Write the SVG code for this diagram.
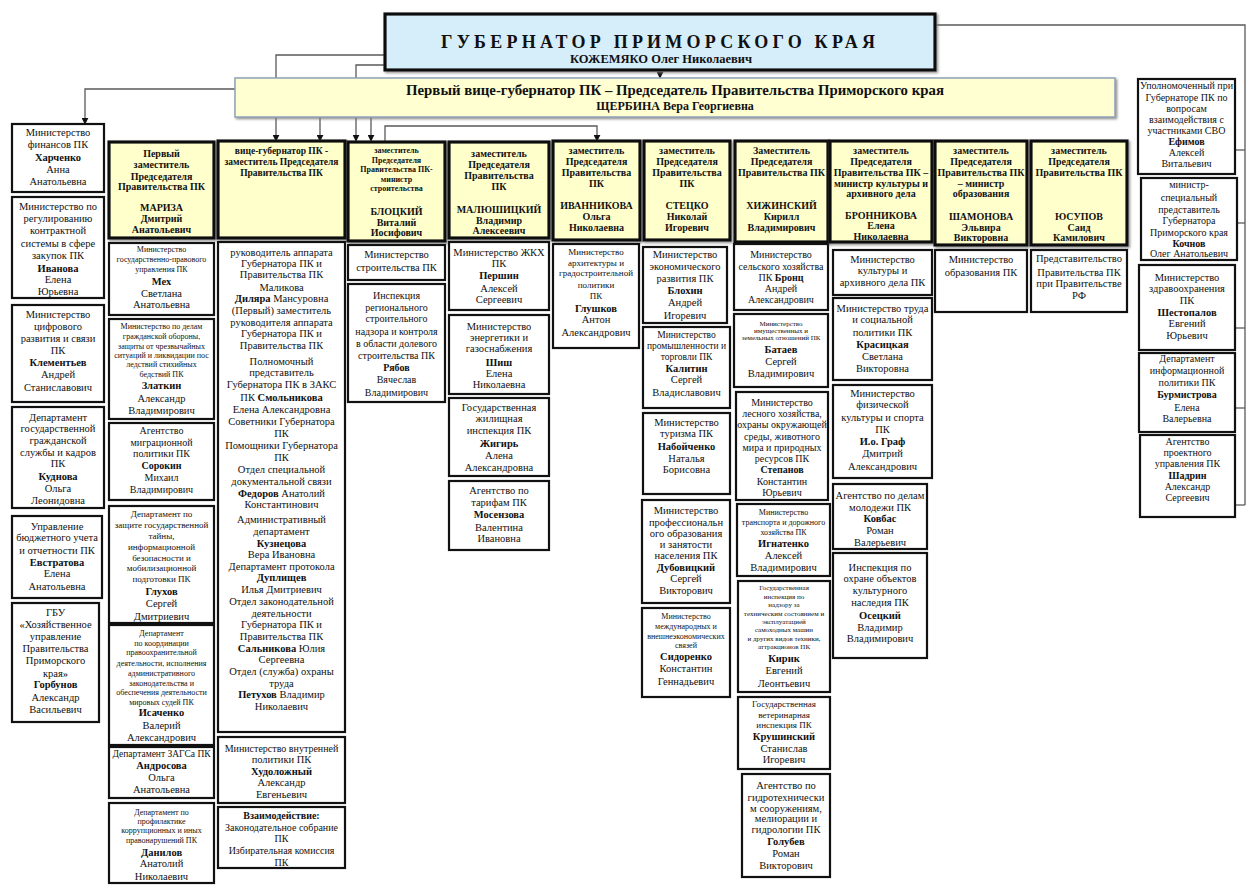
<svg xmlns="http://www.w3.org/2000/svg" width="1260" height="892" viewBox="0 0 1260 892">
<defs>
<style>
.t{font-family:"Liberation Serif","Times New Roman","DejaVu Serif",serif;fill:#111;text-anchor:middle;font-size:10.5px}
.b{font-weight:bold}
.s10{font-size:10px}
.s95{font-size:9.5px}
.s9{font-size:9px}
.s85{font-size:8.5px}
.s8{font-size:8px}
.s75{font-size:7.5px}
.s7{font-size:7px}
.gt{font-size:18px}
.gn{font-size:12.5px}
.ft{font-size:14.5px}
.fn{font-size:12px}
.box{fill:#fff;stroke:#111;stroke-width:2.2}
.hbox{fill:#ffffcc;stroke:#111;stroke-width:3.2}
.conn{fill:none;stroke:#5a5a5a;stroke-width:1.3}
</style>
<marker id="ar" viewBox="0 0 10 10" refX="9" refY="5" markerWidth="7" markerHeight="7" orient="auto" markerUnits="userSpaceOnUse">
<path d="M0,0 L10,5 L0,10 z" fill="#111"/>
</marker>
<filter id="sh" x="-10%" y="-10%" width="130%" height="130%">
<feDropShadow dx="1.5" dy="1.5" stdDeviation="0.8" flood-color="#777" flood-opacity="0.8"/>
</filter>
</defs>
<rect width="1260" height="892" fill="#fff"/>

<g id="connectors">
<path class="conn" d="M660,70 V78" marker-end="url(#ar)"/>
<path class="conn" d="M235,89 H85 V124" marker-end="url(#ar)"/>
<path class="conn" d="M385,55 H276 V141" marker-end="url(#ar)"/>
<path class="conn" d="M320,117 V141" marker-end="url(#ar)"/>
<path class="conn" d="M385,65 H356 V141" marker-end="url(#ar)"/>
<path class="conn" d="M371,117 V141" marker-end="url(#ar)"/>
<path class="conn" d="M385,141 V126 H597 V141" marker-end="url(#ar)"/>
<path class="conn" d="M935,25 H1245 V505"/>
<path class="conn" d="M1245,150 H1219" marker-end="url(#ar)"/>
<path class="conn" d="M1245,223 H1222" marker-end="url(#ar)"/>
<path class="conn" d="M1245,328 H1222" marker-end="url(#ar)"/>
<path class="conn" d="M1245,408 H1222" marker-end="url(#ar)"/>
<path class="conn" d="M1245,505 H1222" marker-end="url(#ar)"/>
</g>

<g id="governor">
<rect x="385" y="14" width="550" height="56" fill="#d6eefa" stroke="#111" stroke-width="3.2" filter="url(#sh)"/>
<text class="t b gt" x="658" y="48" textLength="434" lengthAdjust="spacing">ГУБЕРНАТОР ПРИМОРСКОГО КРАЯ</text>
<text class="t b gn" x="661" y="63">КОЖЕМЯКО Олег Николаевич</text>
</g>

<g id="first-vice">
<rect x="235" y="78" width="880" height="39" fill="#ffffd2" stroke="#8ea2b8" stroke-width="1.5" filter="url(#sh)"/>
<text class="t b ft" x="675" y="95" textLength="538" lengthAdjust="spacingAndGlyphs">Первый вице-губернатор ПК – Председатель Правительства Приморского края</text>
<text class="t b fn" x="675" y="110">ЩЕРБИНА Вера Георгиевна</text>
</g>

<!-- Left column -->
<g id="L1"><rect class="box" x="12" y="124" width="92" height="68"/>
<text class="t"><tspan x="58" y="136">Министерство</tspan><tspan x="58" y="148">финансов ПК</tspan><tspan x="58" y="161" class="b">Харченко</tspan><tspan x="58" y="173">Анна</tspan><tspan x="58" y="185">Анатольевна</tspan></text></g>
<g id="L2"><rect class="box" x="12" y="197" width="92" height="101"/>
<text class="t"><tspan x="58" y="210">Министерство по</tspan><tspan x="58" y="222">регулированию</tspan><tspan x="58" y="234">контрактной</tspan><tspan x="58" y="247">системы в сфере</tspan><tspan x="58" y="259">закупок ПК</tspan><tspan x="58" y="272" class="b">Иванова</tspan><tspan x="58" y="283">Елена</tspan><tspan x="58" y="295">Юрьевна</tspan></text></g>
<g id="L3"><rect class="box" x="12" y="305" width="92" height="97"/>
<text class="t"><tspan x="58" y="318">Министерство</tspan><tspan x="58" y="330">цифрового</tspan><tspan x="58" y="342">развития и связи</tspan><tspan x="58" y="354">ПК</tspan><tspan x="58" y="366" class="b">Клементьев</tspan><tspan x="58" y="378">Андрей</tspan><tspan x="58" y="391">Станиславович</tspan></text></g>
<g id="L4"><rect class="box" x="12" y="407" width="92" height="101"/>
<text class="t"><tspan x="58" y="421">Департамент</tspan><tspan x="58" y="432">государственной</tspan><tspan x="58" y="444">гражданской</tspan><tspan x="58" y="456">службы и кадров</tspan><tspan x="58" y="467">ПК</tspan><tspan x="58" y="480" class="b">Куднова</tspan><tspan x="58" y="492">Ольга</tspan><tspan x="58" y="504">Леонидовна</tspan></text></g>
<g id="L5"><rect class="box" x="12" y="516" width="90" height="82"/>
<text class="t"><tspan x="57" y="530">Управление</tspan><tspan x="57" y="541">бюджетного учета</tspan><tspan x="57" y="554">и отчетности ПК</tspan><tspan x="57" y="566" class="b">Евстратова</tspan><tspan x="57" y="577">Елена</tspan><tspan x="57" y="590">Анатольевна</tspan></text></g>
<g id="L6"><rect class="box" x="12" y="603" width="87" height="119"/>
<text class="t"><tspan x="55.5" y="616">ГБУ</tspan><tspan x="55.5" y="628">«Хозяйственное</tspan><tspan x="55.5" y="640">управление</tspan><tspan x="55.5" y="652">Правительства</tspan><tspan x="55.5" y="664">Приморского</tspan><tspan x="55.5" y="677">края»</tspan><tspan x="55.5" y="688" class="b">Горбунов</tspan><tspan x="55.5" y="701">Александр</tspan><tspan x="55.5" y="713">Васильевич</tspan></text></g>

<!-- Column A -->
<g id="A0"><rect class="hbox" x="109" y="142" width="105" height="96" filter="url(#sh)"/>
<text class="t b s10"><tspan x="161.5" y="157">Первый</tspan><tspan x="161.5" y="168">заместитель</tspan><tspan x="161.5" y="180">Председателя</tspan><tspan x="161.5" y="190">Правительства ПК</tspan><tspan x="161.5" y="211">МАРИЗА</tspan><tspan x="161.5" y="222">Дмитрий</tspan><tspan x="161.5" y="233">Анатольевич</tspan></text></g>
<g id="A1"><rect class="box" x="109" y="243" width="105" height="72"/>
<text class="t"><tspan class="s8" x="161.5" y="252">Министерство</tspan><tspan class="s8" x="161.5" y="262">государственно-правового</tspan><tspan class="s8" x="161.5" y="272">управления ПК</tspan><tspan x="161.5" y="285" class="b">Мех</tspan><tspan x="161.5" y="297">Светлана</tspan><tspan x="161.5" y="308">Анатольевна</tspan></text></g>
<g id="A2"><rect class="box" x="109" y="319" width="105" height="100"/>
<text class="t"><tspan class="s8" x="161.5" y="329">Министерство по делам</tspan><tspan class="s8" x="161.5" y="339">гражданской обороны,</tspan><tspan class="s8" x="161.5" y="349">защиты от чрезвычайных</tspan><tspan class="s8" x="161.5" y="358">ситуаций и ликвидации пос</tspan><tspan class="s8" x="161.5" y="367">ледствий стихийных</tspan><tspan class="s8" x="161.5" y="377">бедствий ПК</tspan><tspan x="161.5" y="389" class="b">Златкин</tspan><tspan x="161.5" y="402">Александр</tspan><tspan x="161.5" y="414">Владимирович</tspan></text></g>
<g id="A3"><rect class="box" x="109" y="423" width="105" height="77"/>
<text class="t s10"><tspan x="161.5" y="434">Агентство</tspan><tspan x="161.5" y="446">миграционной</tspan><tspan x="161.5" y="457">политики ПК</tspan><tspan x="161.5" y="469" class="b">Сорокин</tspan><tspan x="161.5" y="481">Михаил</tspan><tspan x="161.5" y="493">Владимирович</tspan></text></g>
<g id="A4"><rect class="box" x="109" y="506" width="105" height="117"/>
<text class="t"><tspan class="s9" x="161.5" y="517">Департамент по</tspan><tspan class="s9" x="161.5" y="528">защите государственной</tspan><tspan class="s9" x="161.5" y="539">тайны,</tspan><tspan class="s9" x="161.5" y="550">информационной</tspan><tspan class="s9" x="161.5" y="561">безопасности и</tspan><tspan class="s9" x="161.5" y="571">мобилизационной</tspan><tspan class="s9" x="161.5" y="582">подготовки ПК</tspan><tspan x="161.5" y="595" class="b">Глухов</tspan><tspan x="161.5" y="607">Сергей</tspan><tspan x="161.5" y="620">Дмитриевич</tspan></text></g>
<g id="A5"><rect class="box" x="109" y="625" width="105" height="120"/>
<text class="t"><tspan class="s8" x="161.5" y="636">Департамент</tspan><tspan class="s8" x="161.5" y="646">по координации</tspan><tspan class="s8" x="161.5" y="655">правоохранительной</tspan><tspan class="s8" x="161.5" y="666">деятельности, исполнения</tspan><tspan class="s8" x="161.5" y="676">административного</tspan><tspan class="s8" x="161.5" y="686">законодательства и</tspan><tspan class="s8" x="161.5" y="695">обеспечения деятельности</tspan><tspan class="s8" x="161.5" y="705">мировых судей ПК</tspan><tspan x="161.5" y="716" class="b">Исаченко</tspan><tspan x="161.5" y="729">Валерий</tspan><tspan x="161.5" y="741">Александрович</tspan></text></g>
<g id="A6"><rect class="box" x="109" y="747" width="105" height="51"/>
<text class="t"><tspan class="s95" x="161.5" y="757">Департамент ЗАГСа ПК</tspan><tspan x="161.5" y="769" class="b">Андросова</tspan><tspan x="161.5" y="781">Ольга</tspan><tspan x="161.5" y="793">Анатольевна</tspan></text></g>
<g id="A7"><rect class="box" x="109" y="803" width="105" height="80"/>
<text class="t"><tspan class="s8" x="161.5" y="815">Департамент по</tspan><tspan class="s8" x="161.5" y="824">профилактике</tspan><tspan class="s8" x="161.5" y="833">коррупционных и иных</tspan><tspan class="s8" x="161.5" y="843">правонарушений ПК</tspan><tspan x="161.5" y="856" class="b">Данилов</tspan><tspan x="161.5" y="867">Анатолий</tspan><tspan x="161.5" y="880">Николаевич</tspan></text></g>

<!-- Column B -->
<g id="B0"><rect class="hbox" x="218" y="141" width="127" height="97" filter="url(#sh)"/>
<text class="t b s95"><tspan x="281.5" y="154">вице-губернатор ПК -</tspan><tspan x="281.5" y="165">заместитель Председателя</tspan><tspan x="281.5" y="176">Правительства ПК</tspan></text></g>
<g id="B1"><rect class="box" x="218" y="242" width="127" height="490"/>
<text class="t"><tspan x="281.5" y="256">руководитель аппарата</tspan><tspan x="281.5" y="267">Губернатора ПК и</tspan><tspan x="281.5" y="278">Правительства ПК</tspan><tspan x="281.5" y="291">Маликова</tspan><tspan x="281.5" y="302"><tspan class="b">Диляра</tspan> Мансуровна</tspan><tspan x="281.5" y="314">(Первый) заместитель</tspan><tspan x="281.5" y="326">руководителя аппарата</tspan><tspan x="281.5" y="337">Губернатора ПК и</tspan><tspan x="281.5" y="349">Правительства ПК</tspan><tspan x="281.5" y="365">Полномочный</tspan><tspan x="281.5" y="376">представитель</tspan><tspan x="281.5" y="388">Губернатора ПК в ЗАКС</tspan><tspan x="281.5" y="401">ПК <tspan class="b">Смольникова</tspan></tspan><tspan x="281.5" y="413">Елена Александровна</tspan><tspan x="281.5" y="425">Советники Губернатора</tspan><tspan x="281.5" y="437">ПК</tspan><tspan x="281.5" y="449">Помощники Губернатора</tspan><tspan x="281.5" y="461">ПК</tspan><tspan x="281.5" y="473">Отдел специальной</tspan><tspan x="281.5" y="485">документальной связи</tspan><tspan x="281.5" y="497"><tspan class="b">Федоров</tspan> Анатолий</tspan><tspan x="281.5" y="508">Константинович</tspan><tspan x="281.5" y="523">Административный</tspan><tspan x="281.5" y="535">департамент</tspan><tspan x="281.5" y="547" class="b">Кузнецова</tspan><tspan x="281.5" y="558">Вера Ивановна</tspan><tspan x="281.5" y="570">Департамент протокола</tspan><tspan x="281.5" y="581" class="b">Дуплищев</tspan><tspan x="281.5" y="593">Илья Дмитриевич</tspan><tspan x="281.5" y="605">Отдел законодательной</tspan><tspan x="281.5" y="617">деятельности</tspan><tspan x="281.5" y="628">Губернатора ПК и</tspan><tspan x="281.5" y="640">Правительства ПК</tspan><tspan x="281.5" y="652"><tspan class="b">Сальникова</tspan> Юлия</tspan><tspan x="281.5" y="663">Сергеевна</tspan><tspan x="281.5" y="675">Отдел (служба) охраны</tspan><tspan x="281.5" y="687">труда</tspan><tspan x="281.5" y="698"><tspan class="b">Петухов</tspan> Владимир</tspan><tspan x="281.5" y="710">Николаевич</tspan></text></g>
<g id="B2"><rect class="box" x="218" y="737" width="127" height="66"/>
<text class="t"><tspan class="s10" x="281.5" y="752">Министерство внутренней</tspan><tspan x="281.5" y="763">политики ПК</tspan><tspan x="281.5" y="775" class="b">Худоложный</tspan><tspan x="281.5" y="786">Александр</tspan><tspan x="281.5" y="798">Евгеньевич</tspan></text></g>
<g id="B3"><rect class="box" x="218" y="807" width="127" height="61"/>
<text class="t s10"><tspan x="281.5" y="819" class="b">Взаимодействие:</tspan><tspan x="281.5" y="831">Законодательное собрание</tspan><tspan x="281.5" y="842">ПК</tspan><tspan x="281.5" y="854">Избирательная комиссия</tspan><tspan x="281.5" y="866">ПК</tspan></text></g>

<!-- Column C -->
<g id="C0"><rect class="hbox" x="348" y="142" width="97" height="99" filter="url(#sh)"/>
<text class="t b"><tspan class="s8" x="396.5" y="153">заместитель</tspan><tspan class="s8" x="396.5" y="163">Председателя</tspan><tspan class="s8" x="396.5" y="172">Правительства ПК-</tspan><tspan class="s8" x="396.5" y="182">министр</tspan><tspan class="s8" x="396.5" y="191">строительства</tspan><tspan class="s10" x="396.5" y="215">БЛОЦКИЙ</tspan><tspan class="s10" x="396.5" y="226">Виталий</tspan><tspan class="s10" x="396.5" y="236">Иосифович</tspan></text></g>
<g id="C1"><rect class="box" x="348" y="245" width="97" height="35"/>
<text class="t"><tspan x="396.5" y="258">Министерство</tspan><tspan x="396.5" y="271">строительства ПК</tspan></text></g>
<g id="C2"><rect class="box" x="348" y="284" width="97" height="118"/>
<text class="t s10"><tspan x="396.5" y="299">Инспекция</tspan><tspan x="396.5" y="311">регионального</tspan><tspan x="396.5" y="322">строительного</tspan><tspan x="396.5" y="335">надзора и контроля</tspan><tspan x="396.5" y="347">в области долевого</tspan><tspan x="396.5" y="359">строительства ПК</tspan><tspan x="396.5" y="371" class="b">Рябов</tspan><tspan x="396.5" y="383">Вячеслав</tspan><tspan x="396.5" y="396">Владимирович</tspan></text></g>

<!-- Column D -->
<g id="D0"><rect class="hbox" x="449" y="142" width="100" height="96" filter="url(#sh)"/>
<text class="t b s10"><tspan x="499" y="157">заместитель</tspan><tspan x="499" y="168">Председателя</tspan><tspan x="499" y="179">Правительства</tspan><tspan x="499" y="190">ПК</tspan><tspan x="499" y="213">МАЛЮШИЦКИЙ</tspan><tspan x="499" y="224">Владимир</tspan><tspan x="499" y="234">Алексеевич</tspan></text></g>
<g id="D1"><rect class="box" x="449" y="242" width="100" height="68"/>
<text class="t"><tspan x="499" y="256">Министерство ЖКХ</tspan><tspan x="499" y="267">ПК</tspan><tspan x="499" y="279" class="b">Першин</tspan><tspan x="499" y="292">Алексей</tspan><tspan x="499" y="303">Сергеевич</tspan></text></g>
<g id="D2"><rect class="box" x="449" y="315" width="100" height="79"/>
<text class="t"><tspan x="499" y="330">Министерство</tspan><tspan x="499" y="341">энергетики и</tspan><tspan x="499" y="352">газоснабжения</tspan><tspan x="499" y="366" class="b">Шиш</tspan><tspan x="499" y="377">Елена</tspan><tspan x="499" y="388">Николаевна</tspan></text></g>
<g id="D3"><rect class="box" x="449" y="398" width="100" height="78"/>
<text class="t"><tspan x="499" y="411">Государственная</tspan><tspan x="499" y="422">жилищная</tspan><tspan x="499" y="434">инспекция ПК</tspan><tspan x="499" y="447" class="b">Жигирь</tspan><tspan x="499" y="459">Алена</tspan><tspan x="499" y="471">Александровна</tspan></text></g>
<g id="D4"><rect class="box" x="449" y="481" width="100" height="69"/>
<text class="t"><tspan x="499" y="494">Агентство по</tspan><tspan x="499" y="506">тарифам ПК</tspan><tspan x="499" y="518" class="b">Мосензова</tspan><tspan x="499" y="531">Валентина</tspan><tspan x="499" y="542">Ивановна</tspan></text></g>

<!-- Column E -->
<g id="E0"><rect class="hbox" x="553" y="141" width="87" height="99" filter="url(#sh)"/>
<text class="t b s10"><tspan x="596.5" y="154">заместитель</tspan><tspan x="596.5" y="165">Председателя</tspan><tspan x="596.5" y="176">Правительства</tspan><tspan x="596.5" y="187">ПК</tspan><tspan x="596.5" y="209">ИВАННИКОВА</tspan><tspan x="596.5" y="220">Ольга</tspan><tspan x="596.5" y="231">Николаевна</tspan></text></g>
<g id="E1"><rect class="box" x="553" y="244" width="86" height="104"/>
<text class="t"><tspan class="s9" x="596" y="255">Министерство</tspan><tspan class="s9" x="596" y="266">архитектуры и</tspan><tspan class="s9" x="596" y="276">градостроительной</tspan><tspan class="s9" x="596" y="288">политики</tspan><tspan class="s9" x="596" y="299">ПК</tspan><tspan x="596" y="312" class="b">Глушков</tspan><tspan x="596" y="323">Антон</tspan><tspan x="596" y="336">Александрович</tspan></text></g>

<!-- Column F -->
<g id="F0"><rect class="hbox" x="644" y="141" width="86" height="99" filter="url(#sh)"/>
<text class="t b s10"><tspan x="687" y="154">заместитель</tspan><tspan x="687" y="165">Председателя</tspan><tspan x="687" y="176">Правительства</tspan><tspan x="687" y="187">ПК</tspan><tspan x="687" y="209">СТЕЦКО</tspan><tspan x="687" y="220">Николай</tspan><tspan x="687" y="231">Игоревич</tspan></text></g>
<g id="F1"><rect class="box" x="643" y="247" width="84" height="76"/>
<text class="t"><tspan x="685" y="258">Министерство</tspan><tspan x="685" y="270">экономического</tspan><tspan x="685" y="282">развития ПК</tspan><tspan x="685" y="294" class="b">Блохин</tspan><tspan x="685" y="306">Андрей</tspan><tspan x="685" y="319">Игоревич</tspan></text></g>
<g id="F2"><rect class="box" x="643" y="327" width="87" height="81"/>
<text class="t"><tspan class="s95" x="686.5" y="338">Министерство</tspan><tspan class="s95" x="686.5" y="349">промышленности и</tspan><tspan class="s95" x="686.5" y="360">торговли ПК</tspan><tspan x="686.5" y="372" class="b">Калитин</tspan><tspan x="686.5" y="383">Сергей</tspan><tspan x="686.5" y="396">Владиславович</tspan></text></g>
<g id="F3"><rect class="box" x="643" y="413" width="87" height="81"/>
<text class="t"><tspan x="686.5" y="426">Министерство</tspan><tspan x="686.5" y="437">туризма ПК</tspan><tspan x="686.5" y="450" class="b">Набойченко</tspan><tspan x="686.5" y="462">Наталья</tspan><tspan x="686.5" y="473">Борисовна</tspan></text></g>
<g id="F4"><rect class="box" x="642" y="500" width="88" height="103"/>
<text class="t"><tspan x="686" y="514">Министерство</tspan><tspan x="686" y="526">профессиональн</tspan><tspan x="686" y="537">ого образования</tspan><tspan x="686" y="548">и занятости</tspan><tspan x="686" y="559">населения ПК</tspan><tspan x="686" y="571" class="b">Дубовицкий</tspan><tspan x="686" y="582">Сергей</tspan><tspan x="686" y="594">Викторович</tspan></text></g>
<g id="F5"><rect class="box" x="642" y="608" width="88" height="89"/>
<text class="t"><tspan class="s8" x="686" y="619">Министерство</tspan><tspan class="s8" x="686" y="629">международных и</tspan><tspan class="s8" x="686" y="639">внешнеэкономических</tspan><tspan class="s8" x="686" y="648">связей</tspan><tspan x="686" y="660" class="b">Сидоренко</tspan><tspan x="686" y="672">Константин</tspan><tspan x="686" y="685">Геннадьевич</tspan></text></g>

<!-- Column G -->
<g id="G0"><rect class="hbox" x="735" y="141" width="93" height="101" filter="url(#sh)"/>
<text class="t b s10"><tspan x="781.5" y="154">Заместитель</tspan><tspan x="781.5" y="165">Председателя</tspan><tspan x="781.5" y="176">Правительства ПК</tspan><tspan x="781.5" y="209">ХИЖИНСКИЙ</tspan><tspan x="781.5" y="220">Кирилл</tspan><tspan x="781.5" y="231">Владимирович</tspan></text></g>
<g id="G1"><rect class="box" x="734" y="244" width="94" height="66"/>
<text class="t s10"><tspan x="781" y="258">Министерство</tspan><tspan x="781" y="270">сельского хозяйства</tspan><tspan x="781" y="281">ПК <tspan class="b">Бронц</tspan></tspan><tspan x="781" y="292">Андрей</tspan><tspan x="781" y="303">Александрович</tspan></text></g>
<g id="G2"><rect class="box" x="734" y="314" width="94" height="73"/>
<text class="t"><tspan class="s7" x="781" y="326">Министерство</tspan><tspan class="s7" x="781" y="333">имущественных и</tspan><tspan class="s7" x="781" y="340">земельных отношений ПК</tspan><tspan x="781" y="353" class="b">Батаев</tspan><tspan x="781" y="365">Сергей</tspan><tspan x="781" y="377">Владимирович</tspan></text></g>
<g id="G3"><rect class="box" x="736" y="392" width="92" height="108"/>
<text class="t s10"><tspan x="782" y="406">Министерство</tspan><tspan x="782" y="417">лесного хозяйства,</tspan><tspan x="782" y="428">охраны окружающей</tspan><tspan x="782" y="440">среды, животного</tspan><tspan x="782" y="451">мира и природных</tspan><tspan x="782" y="462">ресурсов ПК</tspan><tspan x="782" y="473" class="b">Степанов</tspan><tspan x="782" y="485">Константин</tspan><tspan x="782" y="496">Юрьевич</tspan></text></g>
<g id="G4"><rect class="box" x="737" y="504" width="93" height="72"/>
<text class="t"><tspan class="s8" x="783.5" y="515">Министерство</tspan><tspan class="s8" x="783.5" y="525">транспорта и дорожного</tspan><tspan class="s8" x="783.5" y="535">хозяйства ПК</tspan><tspan x="783.5" y="547" class="b">Игнатенко</tspan><tspan x="783.5" y="559">Алексей</tspan><tspan x="783.5" y="571">Владимирович</tspan></text></g>
<g id="G5"><rect class="box" x="738" y="581" width="92" height="111"/>
<text class="t"><tspan class="s7" x="784" y="590">Государственная</tspan><tspan class="s7" x="784" y="599">инспекция по</tspan><tspan class="s7" x="784" y="607">надзору за</tspan><tspan class="s7" x="784" y="616">техническим состоянием и</tspan><tspan class="s7" x="784" y="624">эксплуатацией</tspan><tspan class="s7" x="784" y="632">самоходных машин</tspan><tspan class="s7" x="784" y="641">и других видов техники,</tspan><tspan class="s7" x="784" y="649">аттракционов ПК</tspan><tspan x="784" y="662" class="b">Кирик</tspan><tspan x="784" y="674">Евгений</tspan><tspan x="784" y="687">Леонтьевич</tspan></text></g>
<g id="G6"><rect class="box" x="738" y="697" width="92" height="72"/>
<text class="t"><tspan class="s9" x="784" y="707">Государственная</tspan><tspan class="s9" x="784" y="718">ветеринарная</tspan><tspan class="s9" x="784" y="728">инспекция ПК</tspan><tspan x="784" y="740" class="b">Крушинский</tspan><tspan x="784" y="752">Станислав</tspan><tspan x="784" y="763">Игоревич</tspan></text></g>
<g id="G7"><rect class="box" x="742" y="774" width="88" height="103"/>
<text class="t"><tspan x="786" y="789">Агентство по</tspan><tspan x="786" y="801">гидротехнически</tspan><tspan x="786" y="812">м сооружениям,</tspan><tspan x="786" y="822">мелиорации и</tspan><tspan x="786" y="833">гидрологии ПК</tspan><tspan x="786" y="845" class="b">Голубев</tspan><tspan x="786" y="857">Роман</tspan><tspan x="786" y="869">Викторович</tspan></text></g>

<!-- Column H -->
<g id="H0"><rect class="hbox" x="830" y="141" width="102" height="101" filter="url(#sh)"/>
<text class="t b s10"><tspan x="881" y="154">заместитель</tspan><tspan x="881" y="165">Председателя</tspan><tspan x="881" y="176">Правительства ПК –</tspan><tspan x="881" y="187">министр культуры и</tspan><tspan x="881" y="197">архивного дела</tspan><tspan x="881" y="219">БРОННИКОВА</tspan><tspan x="881" y="229">Елена</tspan><tspan x="881" y="240">Николаевна</tspan></text></g>
<g id="H1"><rect class="box" x="833" y="250" width="99" height="45"/>
<text class="t"><tspan x="882.5" y="263">Министерство</tspan><tspan x="882.5" y="274">культуры и</tspan><tspan x="882.5" y="286">архивного дела ПК</tspan></text></g>
<g id="H2"><rect class="box" x="833" y="298" width="99" height="82"/>
<text class="t"><tspan x="882.5" y="312">Министерство труда</tspan><tspan x="882.5" y="323">и социальной</tspan><tspan x="882.5" y="336">политики ПК</tspan><tspan x="882.5" y="348" class="b">Красицкая</tspan><tspan x="882.5" y="360">Светлана</tspan><tspan x="882.5" y="372">Викторовна</tspan></text></g>
<g id="H3"><rect class="box" x="833" y="385" width="99" height="93"/>
<text class="t"><tspan x="882.5" y="397">Министерство</tspan><tspan x="882.5" y="408">физической</tspan><tspan x="882.5" y="421">культуры и спорта</tspan><tspan x="882.5" y="433">ПК</tspan><tspan x="882.5" y="445" class="b">И.о. Граф</tspan><tspan x="882.5" y="457">Дмитрий</tspan><tspan x="882.5" y="470">Александрович</tspan></text></g>
<g id="H4"><rect class="box" x="833" y="484" width="94" height="65"/>
<text class="t"><tspan x="880" y="499">Агентство по делам</tspan><tspan x="880" y="511">молодежи ПК</tspan><tspan x="880" y="522" class="b">Ковбас</tspan><tspan x="880" y="534">Роман</tspan><tspan x="880" y="546">Валерьевич</tspan></text></g>
<g id="H5"><rect class="box" x="833" y="553" width="94" height="105"/>
<text class="t"><tspan x="880" y="571">Инспекция по</tspan><tspan x="880" y="582">охране объектов</tspan><tspan x="880" y="594">культурного</tspan><tspan x="880" y="606">наследия ПК</tspan><tspan x="880" y="619" class="b">Осецкий</tspan><tspan x="880" y="631">Владимир</tspan><tspan x="880" y="642">Владимирович</tspan></text></g>

<!-- Column I -->
<g id="I0"><rect class="hbox" x="935" y="141" width="92" height="104" filter="url(#sh)"/>
<text class="t b s10"><tspan x="981" y="154">заместитель</tspan><tspan x="981" y="165">Председателя</tspan><tspan x="981" y="176">Правительства ПК</tspan><tspan x="981" y="187">– министр</tspan><tspan x="981" y="197">образования</tspan><tspan x="981" y="220">ШАМОНОВА</tspan><tspan x="981" y="231">Эльвира</tspan><tspan x="981" y="241">Викторовна</tspan></text></g>
<g id="I1"><rect class="box" x="935" y="250" width="92" height="62"/>
<text class="t"><tspan x="981" y="263">Министерство</tspan><tspan x="981" y="276">образования ПК</tspan></text></g>

<!-- Column J -->
<g id="J0"><rect class="hbox" x="1031" y="141" width="96" height="104" filter="url(#sh)"/>
<text class="t b s10"><tspan x="1079" y="154">заместитель</tspan><tspan x="1079" y="165">Председателя</tspan><tspan x="1079" y="176">Правительства ПК</tspan><tspan x="1079" y="220">ЮСУПОВ</tspan><tspan x="1079" y="231">Саид</tspan><tspan x="1079" y="241">Камилович</tspan></text></g>
<g id="J1"><rect class="box" x="1031" y="250" width="96" height="62"/>
<text class="t"><tspan x="1079" y="262">Представительство</tspan><tspan x="1079" y="276">Правительства ПК</tspan><tspan x="1079" y="287">при Правительстве</tspan><tspan x="1079" y="299">РФ</tspan></text></g>

<!-- Right column -->
<g id="R1"><rect class="box" x="1138" y="79" width="97" height="95"/>
<text class="t s10"><tspan x="1186.5" y="89">Уполномоченный при</tspan><tspan x="1186.5" y="101">Губернаторе ПК по</tspan><tspan x="1186.5" y="112">вопросам</tspan><tspan x="1186.5" y="123">взаимодействия с</tspan><tspan x="1186.5" y="134">участниками СВО</tspan><tspan x="1186.5" y="145" class="b">Ефимов</tspan><tspan x="1186.5" y="156">Алексей</tspan><tspan x="1186.5" y="167">Витальевич</tspan></text></g>
<g id="R2"><rect class="box" x="1141" y="178" width="96" height="82"/>
<text class="t s10"><tspan x="1189" y="188">министр-</tspan><tspan x="1189" y="201">специальный</tspan><tspan x="1189" y="213">представитель</tspan><tspan x="1189" y="224">Губернатора</tspan><tspan x="1189" y="236">Приморского края</tspan><tspan x="1189" y="247" class="b">Кочнов</tspan><tspan x="1189" y="257">Олег Анатольевич</tspan></text></g>
<g id="R3"><rect class="box" x="1139" y="265" width="96" height="85"/>
<text class="t"><tspan x="1187" y="281">Министерство</tspan><tspan x="1187" y="292">здравоохранения</tspan><tspan x="1187" y="304">ПК</tspan><tspan x="1187" y="316" class="b">Шестопалов</tspan><tspan x="1187" y="327">Евгений</tspan><tspan x="1187" y="339">Юрьевич</tspan></text></g>
<g id="R4"><rect class="box" x="1139" y="353" width="96" height="79"/>
<text class="t s10"><tspan x="1187" y="362">Департамент</tspan><tspan x="1187" y="374">информационной</tspan><tspan x="1187" y="386">политики ПК</tspan><tspan x="1187" y="398" class="b">Бурмистрова</tspan><tspan x="1187" y="411">Елена</tspan><tspan x="1187" y="422">Валерьевна</tspan></text></g>
<g id="R5"><rect class="box" x="1140" y="435" width="95" height="82"/>
<text class="t s10"><tspan x="1187.5" y="445">Агентство</tspan><tspan x="1187.5" y="456">проектного</tspan><tspan x="1187.5" y="467">управления ПК</tspan><tspan x="1187.5" y="479" class="b">Шадрин</tspan><tspan x="1187.5" y="490">Александр</tspan><tspan x="1187.5" y="501">Сергеевич</tspan></text></g>
</svg>
